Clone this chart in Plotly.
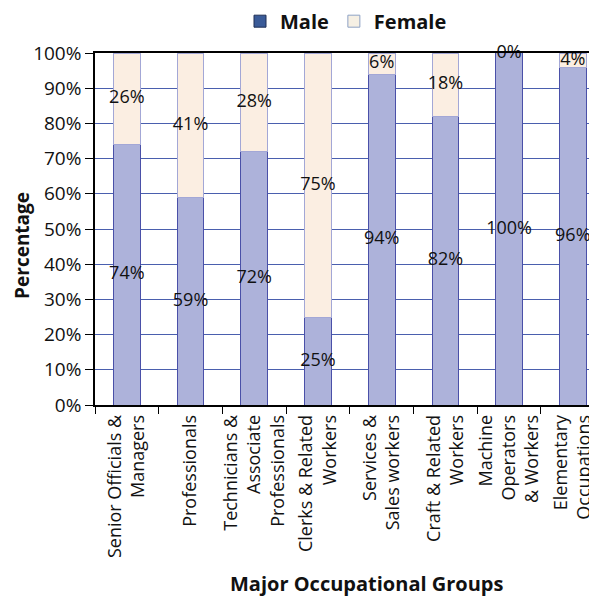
import plotly.graph_objects as go

categories = [
    "Senior Officials &<br>Managers",
    "Professionals",
    "Technicians &<br>Associate<br>Professionals",
    "Clerks & Related<br>Workers",
    "Services &<br>Sales workers",
    "Craft & Related<br>Workers",
    "Machine<br>Operators<br>& Workers",
    "Elementary<br>Occupations",
]
male = [74, 59, 72, 25, 94, 82, 100, 96]
female = [26, 41, 28, 75, 6, 18, 0, 4]

FONT = "Open Sans"

fig = go.Figure()
fig.add_trace(go.Bar(x=categories, y=male, name="Male", showlegend=False,
                     marker=dict(color="#adb2da", line=dict(color="#4a50a8", width=1)),
                     width=0.42))
fig.add_trace(go.Bar(x=categories, y=female, name="Female", showlegend=False,
                     marker=dict(color="#fbeee2", line=dict(color="#a3a7d6", width=1)),
                     width=0.42))
# legend-only swatches
fig.add_trace(go.Bar(x=[None], y=[None], name="Male",
                     marker=dict(color="#3a5b98", line=dict(color="#1e2e55", width=1))))
fig.add_trace(go.Bar(x=[None], y=[None], name="Female",
                     marker=dict(color="#f6f0e4", line=dict(color="#8ea2c4", width=1))))

# value labels
fig.add_trace(go.Scatter(x=categories, y=[m / 2 for m in male], mode="text",
                         text=[f"{m}%" for m in male], showlegend=False, cliponaxis=False,
                         textfont=dict(family=FONT, size=18, color="#111")))
fig.add_trace(go.Scatter(x=categories, y=[m + f / 2 for m, f in zip(male, female)], mode="text",
                         text=[f"{f}%" for f in female], showlegend=False, cliponaxis=False,
                         textfont=dict(family=FONT, size=18, color="#111")))

fig.update_layout(
    width=589, height=590,
    barmode="stack",
    plot_bgcolor="white", paper_bgcolor="white",
    font=dict(family=FONT, color="#111"),
    margin=dict(l=87, r=0, t=45, b=193, autoexpand=False),
    legend=dict(orientation="h", x=0.5, xanchor="center", y=1.035, yanchor="bottom",
                traceorder="normal",
                font=dict(family=FONT, size=20, color="#111", weight="bold"),
                itemwidth=30, tracegroupgap=0),
    showlegend=True,
    annotations=[
        dict(text="Major Occupational Groups", xref="paper", yref="paper",
             x=0.542, y=-0.506, xanchor="center", yanchor="middle", showarrow=False,
             font=dict(family=FONT, size=20, color="#111", weight="bold")),
        dict(text="Percentage", xref="paper", yref="paper",
             x=0, xshift=-73, y=0.452, xanchor="center", yanchor="middle",
             textangle=-90, showarrow=False,
             font=dict(family=FONT, size=19, color="#111", weight="bold")),
    ],
)
fig.update_xaxes(
    type="category",
    range=[-0.5, 7.38],
    showline=True, linecolor="black", linewidth=1.5, mirror=True,
    ticks="outside", tickson="boundaries", ticklen=7, tickcolor="black",
    tickangle=-90, ticklabelstandoff=1,
    tickfont=dict(family=FONT, size=18, color="#111"),
    showgrid=False,
    automargin=False,
)
fig.update_yaxes(
    range=[0, 100], dtick=10, ticksuffix="%",
    showline=True, linecolor="black", linewidth=1.5,
    ticks="outside", ticklen=8, tickcolor="black",
    tickfont=dict(family=FONT, size=19, color="#111"),
    showgrid=True, gridcolor="#4a5fae", gridwidth=1,
    zeroline=False,
    automargin=False,
)

fig.write_html("out.html")
